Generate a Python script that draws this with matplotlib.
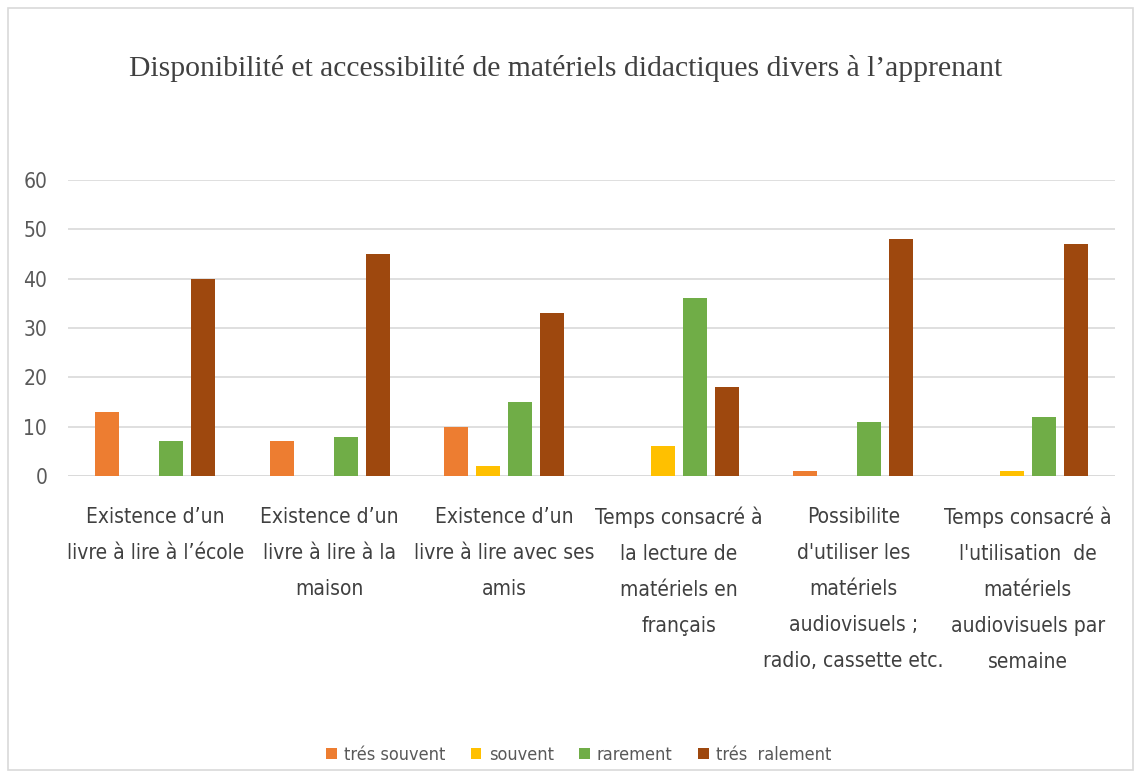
import matplotlib.pyplot as plt
import matplotlib.patches as patches
import numpy as np

# categories and series
categories = [
    "Existence d\u2019un\nlivre \u00e0 lire \u00e0 l\u2019\u00e9cole",
    "Existence d\u2019un\nlivre \u00e0 lire \u00e0 la\nmaison",
    "Existence d\u2019un\nlivre \u00e0 lire avec ses\namis",
    "Temps consacr\u00e9 \u00e0\nla lecture de\nmat\u00e9riels en\nfran\u00e7ais",
    "Possibilite\nd'utiliser les\nmat\u00e9riels\naudiovisuels ;\nradio, cassette etc.",
    "Temps consacr\u00e9 \u00e0\nl'utilisation  de\nmat\u00e9riels\naudiovisuels par\nsemaine",
]
tres_souvent = [13, 7, 10, 0, 1, 0]
souvent = [0, 0, 2, 6, 0, 1]
rarement = [7, 8, 15, 36, 11, 12]
tres_ralement = [40, 45, 33, 18, 48, 47]

series_names = ["tr\u00e9s souvent", "souvent", "rarement", "tr\u00e9s  ralement"]
colors = ["#ED7D31", "#FFC000", "#70AD47", "#9E480E"]

plt.rcParams['font.family'] = ['DejaVu Sans']
plt.rcParams['font.stretch'] = 'condensed'

fig = plt.figure(figsize=(11.39, 7.72), dpi=100)
ax = fig.add_axes([68/1139, 1-476/772, 1047/1139, 296/772])

x = np.arange(len(categories))
w = 0.138
step = 0.184
all_series = [tres_souvent, souvent, rarement, tres_ralement]
for i, vals in enumerate(all_series):
    ax.bar(x + (i - 1.5)*step, vals, w, color=colors[i], label=series_names[i], zorder=3)

ax.set_xlim(-0.5, len(categories) - 0.5)
ax.set_ylim(0, 60)
ax.set_yticks(range(0, 61, 10))
ax.yaxis.grid(True, color="#D9D9D9", linewidth=1.2, zorder=0)
for s in ax.spines.values():
    s.set_visible(False)
ax.axhline(0, color="#D9D9D9", linewidth=1.2, zorder=1)
ax.tick_params(axis='both', length=0, labelsize=15, colors="#595959")
ax.tick_params(axis='y', pad=15)
ax.set_xticks(x)
ax.set_xticklabels(categories, fontsize=15, color="#404040", linespacing=2.0, va='top')
ax.tick_params(axis='x', pad=22)

fig.text(0.497, 1-68/772, "Disponibilit\u00e9 et accessibilit\u00e9 de mat\u00e9riels didactiques divers \u00e0 l\u2019apprenant",
         ha='center', va='center', fontsize=21.3, family=['Liberation Serif', 'DejaVu Serif'], color="#404040")

fig.legend(loc='center', bbox_to_anchor=(0.508, 1-755/772), ncol=4, frameon=False,
           fontsize=13, handlelength=0.6, handleheight=0.6, columnspacing=1.4, handletextpad=0.4,
           labelcolor="#595959")

fig.patches.append(patches.Rectangle((8/1139, 0.002), 1125/1139, 1-10/772, transform=fig.transFigure,
                                     fill=False, edgecolor="#D9D9D9", linewidth=1.2))

fig.savefig("out.png", dpi=100)
